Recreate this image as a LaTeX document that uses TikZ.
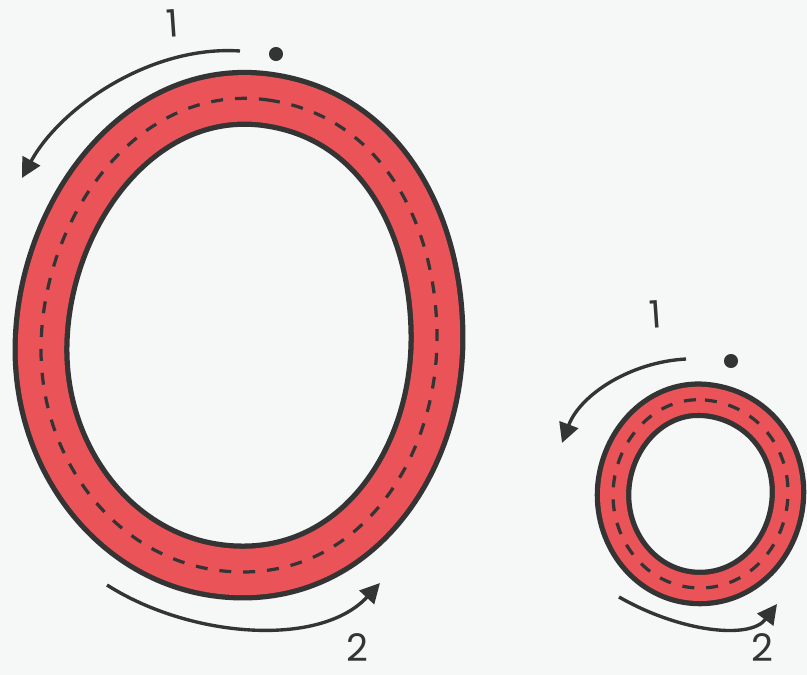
\documentclass[tikz,border=0pt]{standalone}
\usepackage{fontspec}
\setmainfont{Poppins}
\usetikzlibrary{arrows.meta}
\definecolor{ringred}{RGB}{234,84,88}
\definecolor{inkgray}{RGB}{52,52,52}
\definecolor{paper}{RGB}{246,248,247}

\begin{document}
\begin{tikzpicture}[x=0.025cm, y=-0.025cm,
    bigedge/.style={draw=inkgray, line width=40.5pt},
    bigfill/.style={draw=ringred, line width=33pt},
    smalledge/.style={draw=inkgray, line width=26pt},
    smallfill/.style={draw=ringred, line width=18.5pt},
    lanedash/.style={draw=inkgray, line width=2.3pt, dash pattern=on 8.5pt off 8.5pt},
    turnarrow/.style={draw=inkgray, line width=2.4pt, -{Triangle[length=14pt,width=14pt]}},
    dotnode/.style={circle, fill=inkgray, inner sep=0pt, minimum size=10pt},
    stepnum/.style={text=inkgray, inner sep=0pt, font=\fontsize{27}{29}\selectfont}
]
    \fill[paper] (0,0) rectangle (807,675);
    \useasboundingbox (0,0) rectangle (807,675);

    \def\bigpath{(268,100) to[out=352,in=90] (437,338) to[out=270,in=0] (243,572)
        to[out=180,in=270] (41,350) to[out=90,in=172] cycle}
    \def\smallpath{(705,400) to[out=355,in=90] (788,492) to[out=270,in=0] (700,588)
        to[out=180,in=270] (613,495) to[out=90,in=175] cycle}

    \draw[bigedge] \bigpath;
    \draw[bigfill] \bigpath;
    \draw[lanedash] \bigpath;

    \draw[smalledge] \smallpath;
    \draw[smallfill] \smallpath;
    \draw[lanedash] \smallpath;

    \node[dotnode] (bigstart) at (276,54) {};
    \node[dotnode] (smallstart) at (731,361) {};

    \coordinate (b1s) at (240,51);
    \coordinate (b1e) at (22,178);
    \coordinate (b2s) at (107,585);
    \coordinate (b2e) at (380,583);
    \coordinate (s1s) at (686,359);
    \coordinate (s1e) at (562,443);
    \coordinate (s2s) at (619,597);
    \coordinate (s2e) at (777,604);

    \draw[turnarrow] (b1s) .. controls (150,45) and (60,108) .. (b1e);
    \draw[turnarrow] (b2s) .. controls (190,638) and (320,648) .. (b2e);
    \draw[turnarrow] (s1s) .. controls (630,362) and (580,395) .. (s1e);
    \draw[turnarrow] (s2s) .. controls (680,632) and (750,640) .. (s2e);

    \node[stepnum, rotate=4] (bigone) at (173,23) {1};
    \node[stepnum] (bigtwo) at (357,648) {2};
    \node[stepnum, rotate=4] (smallone) at (656,314) {1};
    \node[stepnum] (smalltwo) at (762,648) {2};
\end{tikzpicture}
\end{document}
